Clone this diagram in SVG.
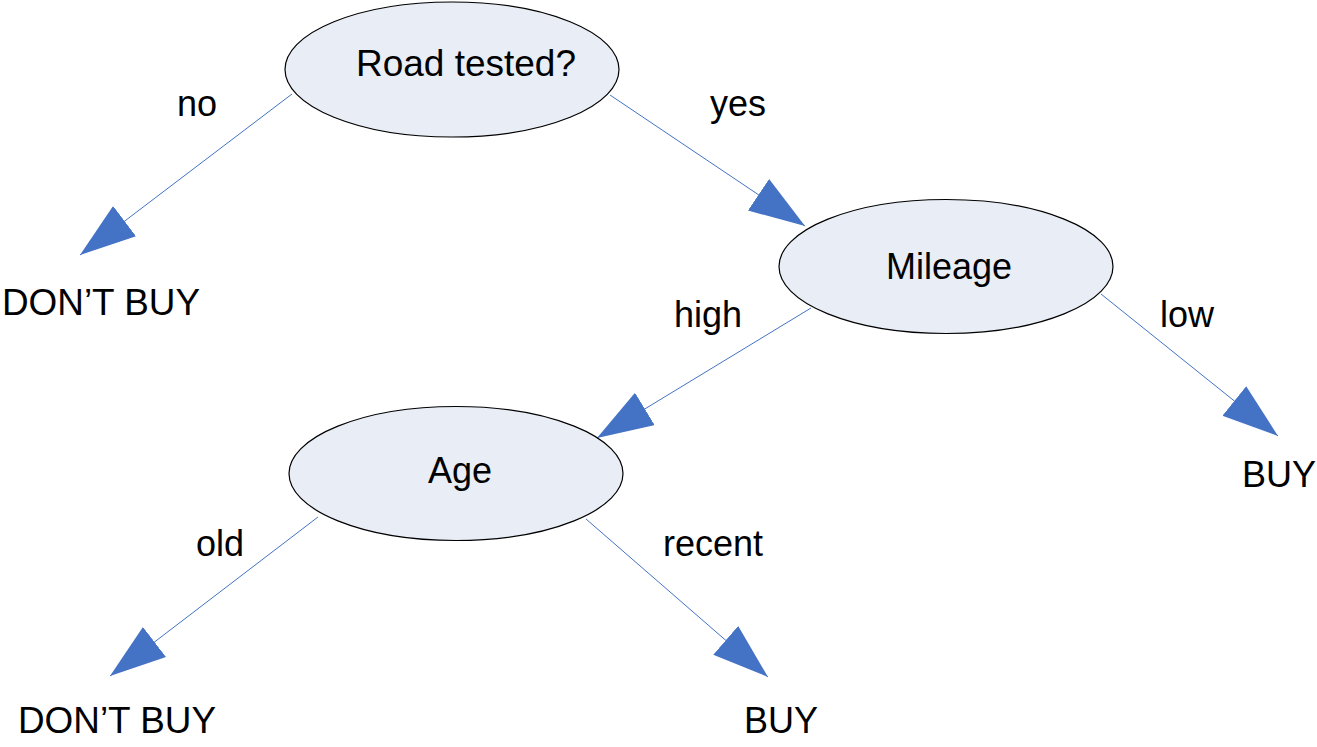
<svg xmlns="http://www.w3.org/2000/svg" width="1317" height="747" viewBox="0 0 1317 747">
<style>
  .node ellipse { fill: #E8EDF6; stroke: #000000; stroke-width: 1.2; }
  text { font-family: "Liberation Sans", Arial, sans-serif; font-size: 36px; fill: #000000; }
  .edge { stroke: #4472C4; stroke-width: 1; fill: none; marker-end: url(#arrow); }
</style>
<defs>
  <marker id="arrow" markerUnits="userSpaceOnUse" markerWidth="58" markerHeight="40" refX="56" refY="19" orient="auto" viewBox="0 0 58 40">
    <path d="M0,0 L56,19 L0,38 Z" fill="#4472C4"/>
  </marker>
</defs>
<rect width="1317" height="747" fill="#FFFFFF"/>
<g id="connectors">
  <line class="edge" x1="292" y1="94" x2="80" y2="255"/>
  <line class="edge" x1="610" y1="95" x2="805" y2="226"/>
  <line class="edge" x1="811" y1="308" x2="597" y2="438"/>
  <line class="edge" x1="1101" y1="294" x2="1278" y2="436"/>
  <line class="edge" x1="318" y1="517" x2="110" y2="676"/>
  <line class="edge" x1="586" y1="519" x2="768" y2="677"/>
</g>
<g id="edge-labels">
  <text x="177" y="116">no</text>
  <text x="710" y="116">yes</text>
  <text x="674" y="327">high</text>
  <text x="1160" y="327">low</text>
  <text x="196" y="556">old</text>
  <text x="663" y="556">recent</text>
</g>
<g id="node-road" class="node">
  <ellipse cx="452" cy="69.5" rx="167" ry="67.5"/>
  <text x="356" y="76" textLength="220" lengthAdjust="spacingAndGlyphs">Road tested?</text>
</g>
<g id="node-mileage" class="node">
  <ellipse cx="946" cy="266.5" rx="167" ry="67"/>
  <text x="886" y="279">Mileage</text>
</g>
<g id="node-age" class="node">
  <ellipse cx="456" cy="473.5" rx="167" ry="67"/>
  <text x="428" y="483">Age</text>
</g>
<g id="leaf-dontbuy-1">
  <text x="2" y="315" textLength="198" lengthAdjust="spacingAndGlyphs">DON’T BUY</text>
</g>
<g id="leaf-buy-1">
  <text x="1242" y="487">BUY</text>
</g>
<g id="leaf-dontbuy-2">
  <text x="18" y="733" textLength="198" lengthAdjust="spacingAndGlyphs">DON’T BUY</text>
</g>
<g id="leaf-buy-2">
  <text x="744" y="733">BUY</text>
</g>
</svg>
